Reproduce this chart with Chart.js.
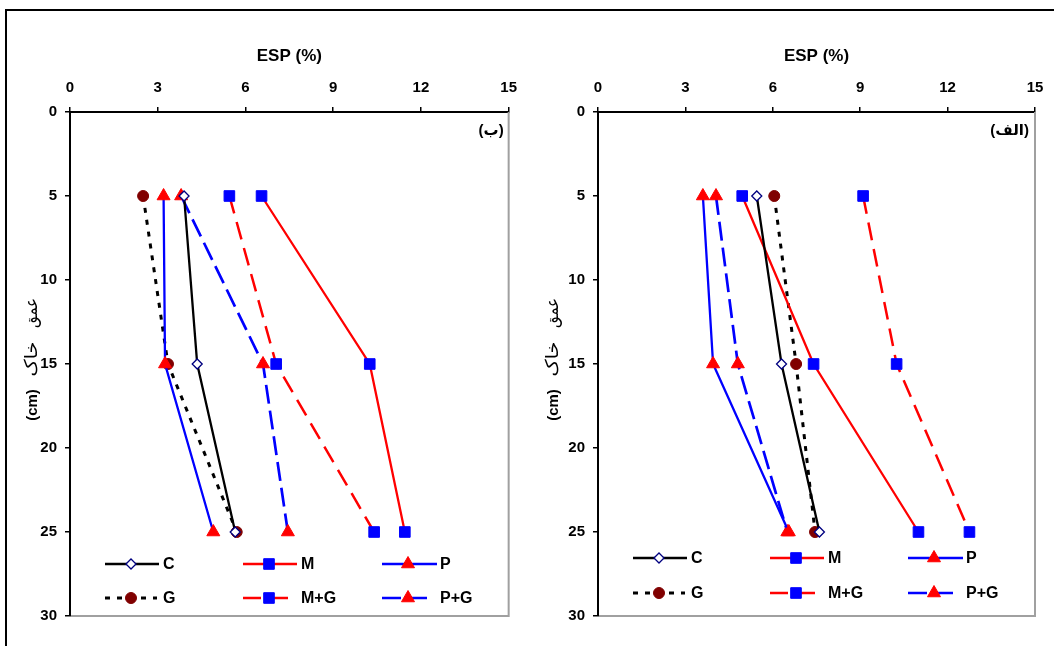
<!DOCTYPE html>
<html><head><meta charset="utf-8">
<script src="https://cdn.jsdelivr.net/npm/chart.js@4.4.1/dist/chart.umd.min.js"></script>
<style>
html,body{margin:0;padding:0;background:#fff;overflow:hidden;}
#wrap{position:relative;width:1054px;height:646px;overflow:hidden;}
#frame{position:absolute;left:5px;top:9px;width:1200px;height:800px;border:2px solid #000;box-sizing:border-box;}
canvas{position:absolute;top:0;}
</style></head><body>
<div id="wrap">
<div id="frame"></div>
<canvas id="cB" width="527" height="646" style="left:0"></canvas>
<canvas id="cA" width="527" height="646" style="left:527px"></canvas>
</div>
<script>
// ---------- DATA ----------
const depths = [5, 15, 25];                 // soil depth (cm)
const xTickLabels = [0, 3, 6, 9, 12, 15];   // ESP (%)
const yTickLabels = [0, 5, 10, 15, 20, 25, 30];
const seriesNames = ['C', 'M', 'P', 'G', 'M+G', 'P+G'];

// Panel (ب) - left
const b_C  = [3.9, 4.35, 5.65];
const b_M  = [6.55, 10.25, 11.45];
const b_P  = [3.2, 3.25, 4.9];
const b_G  = [2.5, 3.35, 5.7];
const b_MG = [5.45, 7.05, 10.4];
const b_PG = [3.8, 6.6, 7.45];

// Panel (الف) - right
const a_C  = [5.45, 6.3, 7.6];
const a_M  = [4.95, 7.4, 11.0];
const a_P  = [3.6, 3.95, 6.55];
const a_G  = [6.05, 6.8, 7.45];
const a_MG = [9.1, 10.25, 12.75];
const a_PG = [4.05, 4.8, 6.5];

// ---------- STYLES ----------
const FONT = "Arial, 'Liberation Sans', 'DejaVu Sans', sans-serif";
const styles = {
  'C':   {line:'#000000', dash:[],     w:2.3, ps:'rectRot',  r:5,   fill:'#ffffff', stroke:'#000080', pbw:1.3},
  'M':   {line:'#ff0000', dash:[],     w:2.3, ps:'rect',     r:7.5, fill:'#0000ff', stroke:'#0000ff', pbw:1},
  'P':   {line:'#0000ff', dash:[],     w:2.3, ps:'triangle', r:7.5, fill:'#ff0000', stroke:'#ff0000', pbw:1},
  'G':   {line:'#000000', dash:[5,7],  w:3,   ps:'circle',   r:5.5, fill:'#800000', stroke:'#800000', pbw:1},
  'M+G': {line:'#ff0000', dash:[18,9], w:2.5, ps:'rect',     r:7.5, fill:'#0000ff', stroke:'#0000ff', pbw:1},
  'P+G': {line:'#0000ff', dash:[19,7], w:2.7, ps:'triangle', r:7.5, fill:'#ff0000', stroke:'#ff0000', pbw:1}
};

function makeDatasets(seriesList){
  return seriesList.map((vals, i) => {
    const s = styles[seriesNames[i]];
    return {
      label: seriesNames[i],
      data: depths.map((d, k) => ({x: vals[k], y: d})),
      showLine: true, fill: false, tension: 0,
      borderColor: s.line, borderWidth: s.w, borderDash: s.dash,
      pointStyle: s.ps, pointRadius: s.r, pointHoverRadius: s.r,
      pointBackgroundColor: s.fill, pointBorderColor: s.stroke, pointBorderWidth: s.pbw
    };
  });
}

function drawMarker(ctx, s, x, y){
  ctx.save();
  ctx.fillStyle = s.fill; ctx.strokeStyle = s.stroke; ctx.lineWidth = s.pbw;
  ctx.setLineDash([]);
  Chart.helpers.drawPoint(ctx, {pointStyle: s.ps, radius: s.r, rotation: 0, borderWidth: s.pbw}, x, y);
  ctx.restore();
}

// draw a word rotated -90deg, centered at (cx, cy), stretched to a target length
function drawVWord(ctx, text, font, cx, cy, target){
  ctx.save();
  ctx.translate(cx, cy); ctx.rotate(-Math.PI / 2);
  ctx.font = font;
  const w = ctx.measureText(text).width;
  if (target) { const k = Math.max(0.8, Math.min(1.6, target / w)); ctx.scale(k, 1); }
  ctx.fillStyle = '#000'; ctx.textAlign = 'center'; ctx.textBaseline = 'middle';
  ctx.fillText(text, 0, 0);
  ctx.restore();
}

const decorPlugin = {
  id: 'decor',
  beforeDatasetsDraw(chart){
    const {ctx, chartArea: a} = chart;
    ctx.save();
    ctx.strokeStyle = '#a0a0a0'; ctx.lineWidth = 2;
    ctx.beginPath();
    ctx.moveTo(a.right, a.top); ctx.lineTo(a.right, a.bottom); ctx.lineTo(a.left + 1, a.bottom);
    ctx.stroke();
    ctx.restore();
  },
  afterDraw(chart){
    const o = chart.options.plugins.decor;
    const {ctx, chartArea: a} = chart;
    // panel label
    ctx.save();
    ctx.font = 'bold 15px ' + FONT; ctx.fillStyle = '#000';
    ctx.textAlign = 'right'; ctx.textBaseline = 'middle';
    ctx.fillText(o.panel, a.right - o.panelDx, 131);
    ctx.restore();
    // y title: "(cm)" bottom, then خاک, then عمق at top
    const cx = a.left - o.yTitleDx;
    drawVWord(ctx, '(cm)', 'bold 15px ' + FONT, cx, 405, 0);
    drawVWord(ctx, 'خاک', '17px ' + FONT, cx - 1, 359, 35);
    drawVWord(ctx, 'عمق', '17px ' + FONT, cx - 1, 313, 30);
    // legend
    chart.data.datasets.forEach((ds, i) => {
      const s = styles[ds.label];
      const row = Math.floor(i / 3), col = i % 3;
      const x0 = a.left + o.legCols[col];
      const y = a.bottom - o.legRows[row];
      const len = o.legLen[i];
      ctx.save();
      ctx.strokeStyle = s.line; ctx.lineWidth = s.w; ctx.setLineDash(s.dash);
      ctx.beginPath(); ctx.moveTo(x0, y); ctx.lineTo(x0 + len, y); ctx.stroke();
      ctx.restore();
      drawMarker(ctx, s, x0 + 26, y);
      ctx.save();
      ctx.font = 'bold 16px ' + FONT; ctx.fillStyle = '#000';
      ctx.textAlign = 'left'; ctx.textBaseline = 'middle';
      ctx.fillText(ds.label, x0 + 58, y + 1);
      ctx.restore();
    });
  }
};

function makeChart(id, seriesList, cfg){
  return new Chart(document.getElementById(id), {
    type: 'scatter',
    data: { datasets: makeDatasets(seriesList) },
    options: {
      responsive: false, animation: false,
      layout: { padding: { left: 0, right: cfg.padRight, top: 0, bottom: 30 } },
      plugins: {
        legend: { display: false }, tooltip: { enabled: false },
        decor: cfg.decor
      },
      scales: {
        x: {
          type: 'linear', position: 'top', min: 0, max: 15,
          afterBuildTicks: s => { s.ticks = xTickLabels.map(v => ({value: v})); },
          afterFit: s => { s.height = 112; },
          ticks: { color: '#000', font: { family: FONT, size: 15, weight: 'bold' }, padding: 10, maxRotation: 0 },
          grid: { drawOnChartArea: false, drawTicks: true, tickLength: 5, color: '#000', lineWidth: 1.5 },
          border: { display: true, color: '#000', width: 2 },
          title: { display: true, text: 'ESP (%)', color: '#000', font: { family: FONT, size: 17, weight: 'bold' }, padding: { top: 46, bottom: 0 } }
        },
        y: {
          type: 'linear', reverse: true, min: 0, max: 30,
          afterBuildTicks: s => { s.ticks = yTickLabels.map(v => ({value: v})); },
          afterFit: s => { s.width = cfg.yWidth; },
          ticks: { color: '#000', font: { family: FONT, size: 15, weight: 'bold' }, padding: 8 },
          grid: { drawOnChartArea: false, drawTicks: true, tickLength: 5, color: '#000', lineWidth: 1.5 },
          border: { display: true, color: '#000', width: 2 }
        }
      }
    },
    plugins: [decorPlugin]
  });
}

makeChart('cB', [b_C, b_M, b_P, b_G, b_MG, b_PG], {
  padRight: 17, yWidth: 70,
  decor: { panel: '(ب)', panelDx: 5, yTitleDx: 37,
           legCols: [35, 173, 312], legRows: [52, 18], legLen: [54, 54, 55, 52, 46, 46] }
});
makeChart('cA', [a_C, a_M, a_P, a_G, a_MG, a_PG], {
  padRight: 19, yWidth: 71,
  decor: { panel: '(الف)', panelDx: 6, yTitleDx: 44,
           legCols: [35, 172, 310], legRows: [58, 23], legLen: [54, 54, 55, 52, 46, 46] }
});
</script>
</body></html>
